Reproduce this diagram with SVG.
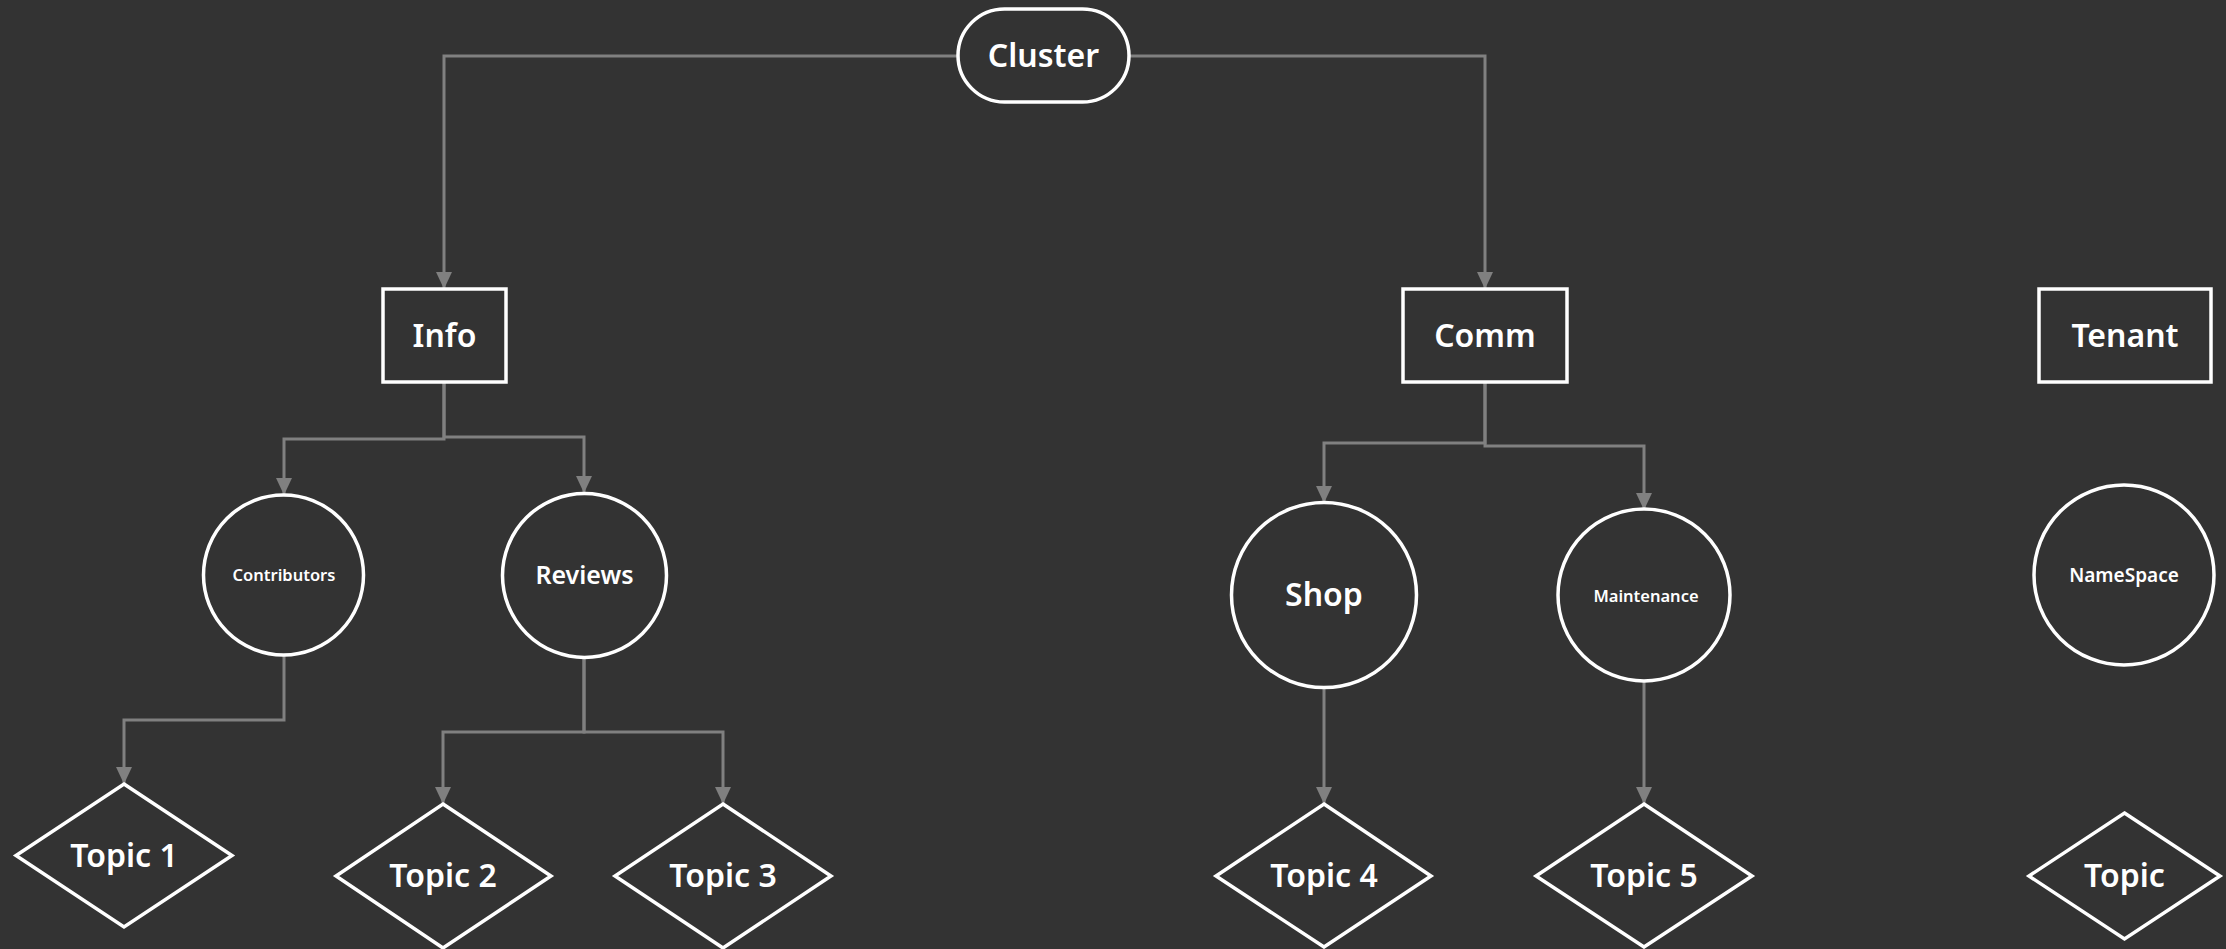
<svg xmlns="http://www.w3.org/2000/svg" width="2226" height="949" viewBox="0 0 2226 949">
<defs>
<style>
.bg{fill:#333333}
.node{fill:#333333;stroke:#ffffff;stroke-width:3.5}
.conn{fill:none;stroke:#808080;stroke-width:3;marker-end:url(#arrow)}
.t{fill:#ffffff;font-family:"Noto Sans","Open Sans","DejaVu Sans",sans-serif;font-weight:600;text-anchor:middle}
.big{font-size:32px}
.mid{font-size:25px}
.ns{font-size:19px}
.sm{font-size:16.5px}
</style>
<marker id="arrow" viewBox="0 0 17 16" refX="17" refY="8" markerWidth="17" markerHeight="16" markerUnits="userSpaceOnUse" orient="auto">
<path d="M0,0 L17,8 L0,16 z" fill="#808080"/>
</marker>
</defs>
<rect class="bg" x="0" y="0" width="2226" height="949"/>
<g id="connectors">
<path class="conn" d="M958,56 H444 V289"/>
<path class="conn" d="M1129,56 H1485 V289"/>
<path class="conn" d="M444,382 V439 H284 V495"/>
<path class="conn" d="M444,382 V437 H584 V493"/>
<path class="conn" d="M1485,382 V443 H1324 V503"/>
<path class="conn" d="M1485,382 V446 H1644 V510"/>
<path class="conn" d="M284,655 V720 H124 V784"/>
<path class="conn" d="M584,658 V732 H443 V804"/>
<path class="conn" d="M584,658 V732 H723 V804"/>
<path class="conn" d="M1324,687 V804"/>
<path class="conn" d="M1644,680 V804"/>
</g>
<g id="cluster">
<rect class="node" x="958" y="9" width="171" height="93" rx="46.5" ry="46.5"/>
<text class="t big" x="1043.5" y="67">Cluster</text>
</g>
<g id="info">
<rect class="node" x="383" y="289" width="123" height="93"/>
<text class="t big" x="444.5" y="347">Info</text>
</g>
<g id="comm">
<rect class="node" x="1403" y="289" width="164" height="93"/>
<text class="t big" x="1485" y="347">Comm</text>
</g>
<g id="tenant">
<rect class="node" x="2039" y="289" width="172" height="93"/>
<text class="t big" x="2125" y="347">Tenant</text>
</g>
<g id="contributors">
<circle class="node" cx="283.5" cy="575" r="80"/>
<text class="t sm" x="284" y="581">Contributors</text>
</g>
<g id="reviews">
<circle class="node" cx="584.5" cy="575.5" r="82"/>
<text class="t mid" x="584.5" y="584">Reviews</text>
</g>
<g id="shop">
<circle class="node" cx="1324" cy="595" r="92.5"/>
<text class="t big" x="1324" y="606">Shop</text>
</g>
<g id="maintenance">
<circle class="node" cx="1644" cy="595" r="86"/>
<text class="t sm" x="1646" y="602">Maintenance</text>
</g>
<g id="namespace">
<circle class="node" cx="2124" cy="575" r="90"/>
<text class="t ns" x="2124" y="582">NameSpace</text>
</g>
<g id="topic1">
<polygon class="node" points="124,784 232,855.5 124,927 16,855.5"/>
<text class="t big" x="124" y="867">Topic 1</text>
</g>
<g id="topic2">
<polygon class="node" points="443,804 551,876 443,948 336,876"/>
<text class="t big" x="443" y="887">Topic 2</text>
</g>
<g id="topic3">
<polygon class="node" points="723,804 831,876 723,948 615,876"/>
<text class="t big" x="723" y="887">Topic 3</text>
</g>
<g id="topic4">
<polygon class="node" points="1324,804 1431,876 1324,947 1216,876"/>
<text class="t big" x="1324" y="887">Topic 4</text>
</g>
<g id="topic5">
<polygon class="node" points="1644,804 1752,876 1644,947 1536,876"/>
<text class="t big" x="1644" y="887">Topic 5</text>
</g>
<g id="topic">
<polygon class="node" points="2124.5,813 2220,876 2124.5,939 2029,876"/>
<text class="t big" x="2124.5" y="887">Topic</text>
</g>
</svg>
